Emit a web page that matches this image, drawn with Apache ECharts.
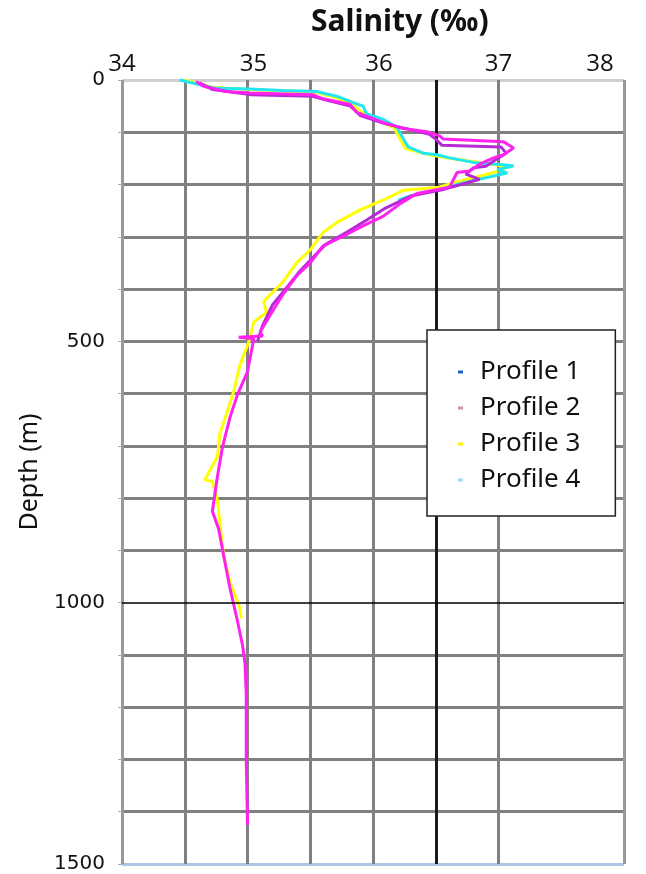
<!DOCTYPE html>
<html>
<head>
<meta charset="UTF-8">
<title>Salinity profiles</title>
<script src="https://cdn.jsdelivr.net/npm/echarts@6.0.0/dist/echarts.min.js"></script>
<style>
  html, body { margin: 0; padding: 0; background: #fff; }
  #chart { width: 646px; height: 874px; }
</style>
</head>
<body>
<div id="chart"></div>
<script>
// profile names and legend swatch colours (as in the reference legend)
const profileNames = ['Profile 1', 'Profile 2', 'Profile 3', 'Profile 4'];
const legendColors = ['#1a66c2', '#d99090', '#ffee00', '#a6d8e8'];
// colours of the plotted traces
const lineColors = ['#b42ad6', '#ff22ee', '#ffff00', '#22e6f0'];

// Profile 1 (purple-magenta), salinity (‰) and depth (m)
const sal1 = [34.62, 34.72, 35.02, 35.52, 35.65, 35.82, 35.90, 36.10, 36.30, 36.45, 36.50, 36.55, 37.02, 37.06, 36.98, 36.90,
  36.80, 36.74, 36.85, 36.70, 36.55, 36.30, 36.10, 35.95, 35.80, 35.62, 35.50, 35.42, 35.32, 35.20, 35.12, 35.08];
const dep1 = [6, 18, 28, 31, 40, 50, 68, 84, 95, 104, 113, 125, 128, 140, 152, 165,
  168, 180, 190, 200, 210, 222, 245, 268, 290, 315, 345, 365, 395, 430, 470, 500];

// Profile 2 (magenta), deepest cast
const sal2 = [34.59, 34.65, 34.83, 35.02, 35.52, 35.60, 35.82, 35.87, 36.08, 36.24, 36.43, 36.53, 36.56, 37.04, 37.12, 37.04,
  36.96, 36.85, 36.77, 36.67, 36.61, 36.35, 36.22, 36.08, 35.92, 35.77, 35.60, 35.50, 35.39, 35.28, 35.18, 35.10,
  35.12, 34.93, 35.05, 35.00, 34.92, 34.86, 34.80, 34.76, 34.73, 34.72, 34.77, 34.81, 34.86, 34.92, 34.96, 34.98,
  34.99, 34.99, 35.00];
const dep2 = [3, 12, 22, 25, 28, 36, 47, 62, 81, 93, 99, 107, 113, 118, 130, 143,
  149, 161, 174, 177, 205, 217, 236, 261, 279, 298, 318, 350, 375, 411, 450, 482,
  490, 492, 495, 558, 602, 646, 703, 759, 809, 825, 859, 910, 972, 1035, 1081, 1116,
  1175, 1300, 1425];

// Profile 3 (yellow)
const sal3 = [34.50, 34.60, 34.72, 35.00, 35.30, 35.55, 35.70, 35.83, 35.90, 36.05, 36.17, 36.22, 36.26, 36.45, 36.62, 36.85,
  37.00, 37.05, 36.92, 36.75, 36.60, 36.53, 36.24, 36.08, 35.90, 35.71, 35.60, 35.50, 35.39, 35.28, 35.13, 35.15,
  35.05, 35.01, 34.94, 34.89, 34.84, 34.78, 34.76, 34.66, 34.72, 34.76, 34.78, 34.81, 34.86, 34.94, 34.95];
const dep3 = [0, 6, 14, 18, 21, 24, 33, 45, 60, 77, 92, 115, 131, 143, 150, 158,
  163, 170, 180, 190, 200, 205, 211, 230, 248, 273, 292, 325, 350, 387, 423, 445,
  463, 501, 545, 596, 633, 677, 721, 765, 768, 803, 847, 910, 960, 1011, 1030];

// Profile 4 (cyan)
const sal4 = [34.46, 34.62, 34.75, 35.02, 35.28, 35.55, 35.71, 35.84, 35.92, 35.95, 36.08, 36.19, 36.24, 36.28, 36.40, 36.51,
  36.61, 36.83, 36.99, 37.12, 36.99, 37.07, 36.77, 36.67, 36.53, 36.35, 36.20];
const dep4 = [0, 9, 16, 17, 20, 22, 31, 43, 50, 65, 75, 90, 112, 128, 140, 143,
  149, 159, 161, 164, 172, 178, 194, 200, 210, 218, 230];

const salinities = [sal1, sal2, sal3, sal4];
const depths = [dep1, dep2, dep3, dep4];
const drawOrder = [3, 4, 1, 2]; // z per profile: magenta on top

// gridline colours: 37.5 has no line, 36.5 is drawn dark
const xGridColors = ['#999999', '#808080', '#808080', '#808080', '#808080', '#1a1a1a', '#808080', 'rgba(0,0,0,0)', '#999999'];
// depth gridlines 0..1500 every 100; 0 pale, 1000 drawn as thin black mark line, 1500 pale blue
const yGridColors = ['#cfcfcf', '#808080', '#808080', '#808080', '#808080', '#808080', '#808080', '#808080', '#808080', '#808080',
  'rgba(0,0,0,0)', '#808080', '#808080', '#808080', '#808080', '#a9c6e6'];

const chart = echarts.init(document.getElementById('chart'));

const series = profileNames.map((name, i) => {
  const s = {
    name: name,
    type: 'line',
    data: salinities[i].map((v, k) => [v, depths[i][k]]),
    showSymbol: false,
    symbol: 'none',
    z: drawOrder[i],
    lineStyle: { color: lineColors[i], width: 3 },
    itemStyle: { color: lineColors[i] },
    animation: false
  };
  if (i === 1) {
    s.markLine = {
      silent: true,
      symbol: 'none',
      label: { show: false },
      lineStyle: { color: '#000', width: 1.5, type: 'solid' },
      data: [{ yAxis: 1000 }]
    };
  }
  return s;
});

const xLabelStyle = { fontFamily: 'Open Sans', fontSize: 24, color: '#111' };

chart.setOption({
  backgroundColor: '#fff',
  animation: false,
  title: {
    text: 'Salinity (‰)',
    left: 306,
    top: 2,
    textStyle: { fontFamily: 'Noto Sans', fontWeight: 'bold', fontSize: 30, color: '#111' }
  },
  legend: {
    orient: 'vertical',
    left: 427,
    top: 330,
    padding: [29, 35, 23, 31],
    itemGap: 10,
    itemWidth: 5,
    itemHeight: 3,
    icon: 'rect',
    backgroundColor: '#fff',
    borderColor: '#222',
    borderWidth: 1.5,
    textStyle: { fontFamily: 'Noto Sans', fontSize: 26, color: '#111', padding: [0, 0, 0, 12] },
    data: profileNames.map((n, i) => ({ name: n, itemStyle: { color: legendColors[i] } }))
  },
  grid: { left: 122, right: 22, top: 80, bottom: 10 },
  xAxis: {
    type: 'value',
    position: 'top',
    min: 34,
    max: 38,
    interval: 0.5,
    axisLine: { show: false },
    axisTick: { show: false },
    axisLabel: {
      margin: 4,
      fontFamily: 'Open Sans',
      fontSize: 24,
      color: '#111',
      formatter: v => {
        if (v % 1 !== 0) return '';
        if (v === 35 || v === 36) return '{r|' + v + '}';
        if (v === 38) return '{l|' + v + '}';
        return String(v);
      },
      rich: {
        r: Object.assign({ padding: [0, 0, 0, 12] }, xLabelStyle),
        l: Object.assign({ padding: [0, 48, 0, 0] }, xLabelStyle)
      }
    },
    splitLine: { show: true, lineStyle: { color: xGridColors, width: 3 } }
  },
  yAxis: {
    type: 'value',
    inverse: true,
    min: 0,
    max: 1500,
    interval: 100,
    name: 'Depth (m)',
    nameLocation: 'middle',
    nameGap: 80,
    nameTextStyle: { fontFamily: 'Noto Sans', fontSize: 25, color: '#111' },
    axisLine: { show: false },
    axisTick: { show: true, length: 4, lineStyle: { color: '#aaa' } },
    axisLabel: {
      margin: 17,
      fontFamily: 'DejaVu Sans',
      fontSize: 20,
      color: '#111',
      formatter: v => (v % 500 === 0 ? String(v) : '')
    },
    splitLine: { show: true, lineStyle: { color: yGridColors, width: 3 } }
  },
  series: series
});
</script>
</body>
</html>
